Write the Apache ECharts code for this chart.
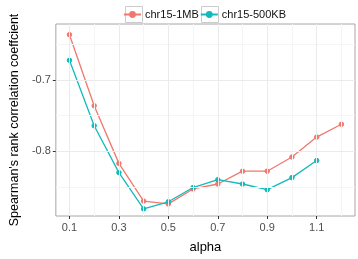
<!DOCTYPE html>
<html>
<head>
<meta charset="utf-8">
<script src="https://cdn.jsdelivr.net/npm/echarts@6/dist/echarts.min.js"></script>
<style>
  html, body { margin: 0; padding: 0; background: #fff; }
  #chart { width: 358px; height: 259px; }
</style>
</head>
<body>
<div id="chart"></div>
<script>
// alpha values (x)
const alpha = [0.1, 0.2, 0.3, 0.4, 0.5, 0.6, 0.7, 0.8, 0.9, 1.0, 1.1, 1.2]
// Spearman's rank correlation
const chr15_1MB = [-0.636, -0.736, -0.817, -0.870, -0.874, -0.853, -0.846, -0.828, -0.828, -0.808, -0.780, -0.762]
const chr15_500KB = [-0.672, -0.764, -0.830, -0.881, -0.871, -0.851, -0.840, -0.846, -0.854, -0.837, -0.813]
// tick labels / grid lines
const xTicks = [0.1, 0.3, 0.5, 0.7, 0.9, 1.1]
const xMinor = [0.2, 0.4, 0.6, 0.8, 1.0, 1.2]
const yTicks = [-0.8, -0.7]
const yMinor = [-0.85, -0.75, -0.65]

const font = 'Liberation Sans, Arial, sans-serif'
const labelColor = '#4d4d4d'
const red = '#F0786F'
const teal = '#14BABA'

function pairs (xs, ys) {
  return ys.map((y, i) => [xs[i], y])
}

function gridLines () {
  const lines = []
  const minor = { color: '#f5f5f5', width: 1, type: 'solid' }
  const major = { color: '#ebebeb', width: 1, type: 'solid' }
  xMinor.forEach(v => lines.push({ xAxis: v, lineStyle: minor }))
  yMinor.forEach(v => lines.push({ yAxis: v, lineStyle: minor }))
  xTicks.forEach(v => lines.push({ xAxis: v, lineStyle: major }))
  yTicks.forEach(v => lines.push({ yAxis: v, lineStyle: major }))
  return lines
}

const chart = echarts.init(document.getElementById('chart'), null, { renderer: 'canvas' })

const option = {
  animation: false,
  backgroundColor: '#fff',
  textStyle: { fontFamily: font },
  grid: {
    left: 39,
    right: 3,
    top: 24,
    bottom: 33,
    show: true,
    backgroundColor: '#fff',
    borderColor: '#a6a6a6',
    borderWidth: 1
  },
  // key boxes round the legend icons
  graphic: [
    { type: 'rect', left: 123, top: 4, shape: { width: 17, height: 16 }, style: { fill: 'none', stroke: '#cccccc', lineWidth: 1 }, silent: true },
    { type: 'rect', left: 199, top: 4, shape: { width: 17, height: 16 }, style: { fill: 'none', stroke: '#cccccc', lineWidth: 1 }, silent: true }
  ],
  legend: {
    top: 9,
    left: 123,
    padding: 0,
    itemGap: 1,
    itemWidth: 17,
    itemHeight: 6,
    textStyle: { fontSize: 11, color: '#111', fontFamily: font, padding: [0, 0, 0, -1] },
    data: ['chr15-1MB', 'chr15-500KB']
  },
  xAxis: {
    type: 'value',
    min: 0.045,
    max: 1.255,
    name: 'alpha',
    nameLocation: 'middle',
    nameGap: 25,
    nameTextStyle: { fontSize: 13, color: '#000', fontFamily: font },
    axisLine: { show: false },
    axisTick: { show: true, customValues: xTicks, length: 3, lineStyle: { color: '#333' } },
    axisLabel: {
      customValues: xTicks,
      margin: 6,
      fontSize: 11,
      color: labelColor,
      formatter: v => v.toFixed(1)
    },
    splitLine: { show: false }
  },
  yAxis: {
    type: 'value',
    min: -0.891,
    max: -0.621,
    name: "Spearman's rank correlation coeffcient",
    nameLocation: 'middle',
    nameGap: 29,
    nameTextStyle: { fontSize: 12.5, color: '#000', fontFamily: font },
    axisLine: { show: false },
    axisTick: { show: true, customValues: yTicks, length: 3, lineStyle: { color: '#333' } },
    axisLabel: {
      customValues: yTicks,
      margin: 5,
      fontSize: 11,
      color: labelColor,
      formatter: v => v.toFixed(1)
    },
    splitLine: { show: false }
  },
  series: [
    {
      name: 'grid',
      type: 'line',
      data: [],
      z: 0,
      silent: true,
      markLine: {
        silent: true,
        symbol: 'none',
        label: { show: false },
        emphasis: { disabled: true },
        data: gridLines()
      }
    },
    {
      name: 'chr15-1MB',
      type: 'line',
      data: pairs(alpha, chr15_1MB),
      symbol: 'circle',
      symbolSize: 4.5,
      color: red,
      itemStyle: { color: red, borderColor: red, borderWidth: 1 },
      lineStyle: { width: 1.3, color: red }
    },
    {
      name: 'chr15-500KB',
      type: 'line',
      data: pairs(alpha, chr15_500KB),
      symbol: 'circle',
      symbolSize: 4.5,
      color: teal,
      itemStyle: { color: teal, borderColor: teal, borderWidth: 1 },
      lineStyle: { width: 1.3, color: teal }
    }
  ]
}

chart.setOption(option)
</script>
</body>
</html>
